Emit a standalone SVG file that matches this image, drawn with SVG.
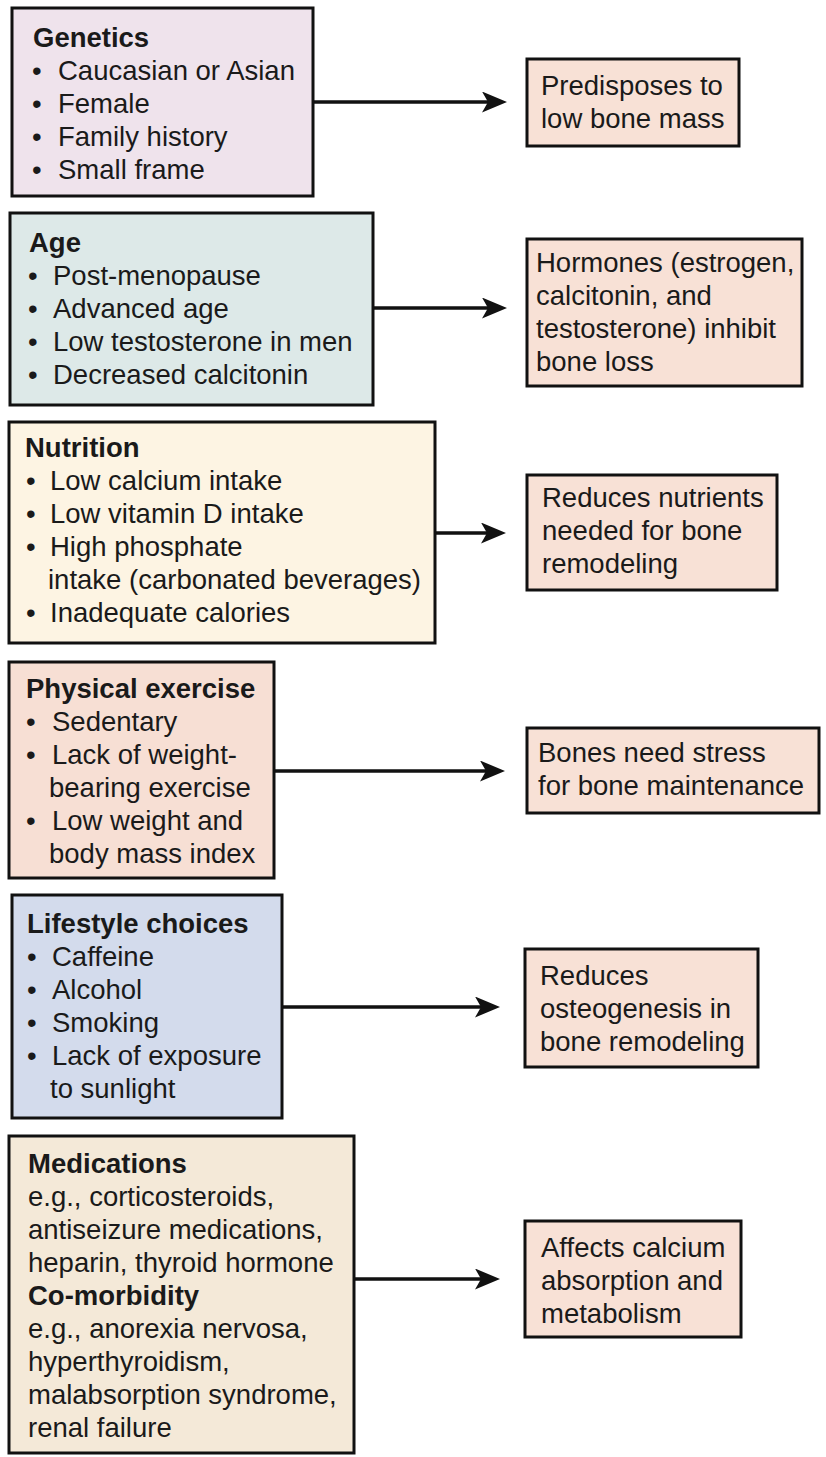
<svg xmlns="http://www.w3.org/2000/svg" width="826" height="1457" viewBox="0 0 826 1457">
<style>
text{font-family:"Liberation Sans",Arial,Helvetica,sans-serif;font-size:27.5px;fill:#1a1a1a}
.b{font-weight:bold}
.box{stroke:#111;stroke-width:3}
.res{fill:#f8e1d6}
.conn{stroke:#111;stroke-width:3.5;fill:none}
</style>
<defs>
<marker id="ah" markerUnits="userSpaceOnUse" markerWidth="26" markerHeight="22" refX="17" refY="10.5" orient="auto" viewBox="0 0 26 22">
<path d="M0,0 L25,10.5 L0,21 L6,10.5 Z" fill="#111"/>
</marker>
</defs>
<rect width="826" height="1457" fill="#fff"/>

<g id="connectors">
<line class="conn" x1="313" y1="102" x2="499" y2="102" marker-end="url(#ah)"/>
<line class="conn" x1="373" y1="308" x2="499" y2="308" marker-end="url(#ah)"/>
<line class="conn" x1="435" y1="533" x2="498" y2="533" marker-end="url(#ah)"/>
<line class="conn" x1="274" y1="771" x2="497" y2="771" marker-end="url(#ah)"/>
<line class="conn" x1="282" y1="1007" x2="492" y2="1007" marker-end="url(#ah)"/>
<line class="conn" x1="354" y1="1279" x2="492" y2="1279" marker-end="url(#ah)"/>
</g>

<g id="genetics">
<rect class="box" x="12" y="8" width="301" height="188" fill="#efe3ec"/>
<text class="b" x="33" y="47">Genetics</text>
<text x="32" y="80">•</text><text x="58" y="80">Caucasian or Asian</text>
<text x="32" y="113">•</text><text x="58" y="113">Female</text>
<text x="32" y="146">•</text><text x="58" y="146">Family history</text>
<text x="32" y="179">•</text><text x="58" y="179">Small frame</text>
</g>

<g id="age">
<rect class="box" x="10" y="213" width="363" height="192" fill="#dde9e8"/>
<text class="b" x="29" y="252">Age</text>
<text x="28" y="285">•</text><text x="53" y="285">Post-menopause</text>
<text x="28" y="318">•</text><text x="53" y="318">Advanced age</text>
<text x="28" y="351">•</text><text x="53" y="351">Low testosterone in men</text>
<text x="28" y="384">•</text><text x="53" y="384">Decreased calcitonin</text>
</g>

<g id="nutrition">
<rect class="box" x="9" y="422" width="426" height="221" fill="#fdf4e3"/>
<text class="b" x="25" y="457">Nutrition</text>
<text x="26" y="490">•</text><text x="50" y="490">Low calcium intake</text>
<text x="26" y="523">•</text><text x="50" y="523">Low vitamin D intake</text>
<text x="26" y="556">•</text><text x="50" y="556">High phosphate</text>
<text x="48" y="589">intake (carbonated beverages)</text>
<text x="26" y="622">•</text><text x="50" y="622">Inadequate calories</text>
</g>

<g id="exercise">
<rect class="box" x="9" y="662" width="265" height="216" fill="#f7dfd4"/>
<text class="b" x="26" y="698">Physical exercise</text>
<text x="26" y="731">•</text><text x="52" y="731">Sedentary</text>
<text x="26" y="764">•</text><text x="52" y="764">Lack of weight-</text>
<text x="49" y="797">bearing exercise</text>
<text x="26" y="830">•</text><text x="52" y="830">Low weight and</text>
<text x="49" y="863">body mass index</text>
</g>

<g id="lifestyle">
<rect class="box" x="12" y="895" width="270" height="223" fill="#d3dbec"/>
<text class="b" x="27" y="933">Lifestyle choices</text>
<text x="27" y="966">•</text><text x="52" y="966">Caffeine</text>
<text x="27" y="999">•</text><text x="52" y="999">Alcohol</text>
<text x="27" y="1032">•</text><text x="52" y="1032">Smoking</text>
<text x="27" y="1065">•</text><text x="52" y="1065">Lack of exposure</text>
<text x="50" y="1098">to sunlight</text>
</g>

<g id="medications">
<rect class="box" x="9" y="1136" width="345" height="317" fill="#f4e9d8"/>
<text class="b" x="28" y="1173">Medications</text>
<text x="28" y="1206">e.g., corticosteroids,</text>
<text x="28" y="1239">antiseizure medications,</text>
<text x="28" y="1272">heparin, thyroid hormone</text>
<text class="b" x="28" y="1305">Co-morbidity</text>
<text x="28" y="1338">e.g., anorexia nervosa,</text>
<text x="28" y="1371">hyperthyroidism,</text>
<text x="28" y="1404">malabsorption syndrome,</text>
<text x="28" y="1437">renal failure</text>
</g>

<g id="effect-genetics">
<rect class="box res" x="527" y="59" width="212" height="87"/>
<text x="541" y="95">Predisposes to</text>
<text x="541" y="128">low bone mass</text>
</g>

<g id="effect-age">
<rect class="box res" x="527" y="239" width="275" height="147"/>
<text x="536" y="272">Hormones (estrogen,</text>
<text x="536" y="305">calcitonin, and</text>
<text x="536" y="338">testosterone) inhibit</text>
<text x="536" y="371">bone loss</text>
</g>

<g id="effect-nutrition">
<rect class="box res" x="527" y="475" width="250" height="115"/>
<text x="542" y="507">Reduces nutrients</text>
<text x="542" y="540">needed for bone</text>
<text x="542" y="573">remodeling</text>
</g>

<g id="effect-exercise">
<rect class="box res" x="527" y="728" width="292" height="85"/>
<text x="538" y="762">Bones need stress</text>
<text x="538" y="795">for bone maintenance</text>
</g>

<g id="effect-lifestyle">
<rect class="box res" x="525" y="949" width="233" height="118"/>
<text x="540" y="985">Reduces</text>
<text x="540" y="1018">osteogenesis in</text>
<text x="540" y="1051">bone remodeling</text>
</g>

<g id="effect-medications">
<rect class="box res" x="525" y="1221" width="216" height="116"/>
<text x="541" y="1257">Affects calcium</text>
<text x="541" y="1290">absorption and</text>
<text x="541" y="1323">metabolism</text>
</g>
</svg>
